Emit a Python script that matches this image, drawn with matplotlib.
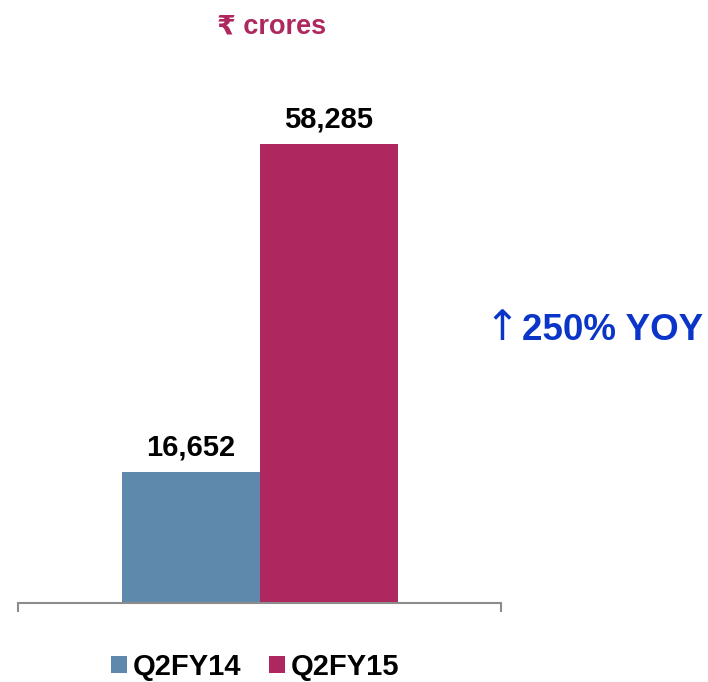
import matplotlib
matplotlib.use("Agg")
import matplotlib.pyplot as plt
from matplotlib.patches import Patch

periods = ["Q2FY14", "Q2FY15"]
values = [16652, 58285]
bar_colors = ["#5E89AD", "#AE275E"]
title_text = "₹ crores"
growth_text = "250% YOY"

FONT = ["Liberation Sans", "DejaVu Sans"]
plt.rcParams["font.family"] = FONT

W, H = 708, 682
fig = plt.figure(figsize=(W / 100, H / 100), dpi=100)
ax = fig.add_axes([18 / W, (H - 603) / H, 483 / W, 551.3 / H])

offsets = [-0.5, 0.5]
bars = ax.bar(offsets, values, width=1.0, color=bar_colors, zorder=2)
ax.set_xlim(-1.75, 1.75)
ax.set_ylim(0, 70000)

for b, v in zip(bars, values):
    ax.annotate(f"{v:,}", (b.get_x() + b.get_width() / 2, v),
                xytext=(0, 12), textcoords="offset points",
                ha="center", va="baseline", fontsize=21, fontweight="bold",
                color="black")

for s in ["top", "right", "left"]:
    ax.spines[s].set_visible(False)
ax.spines["bottom"].set_color("#8C8C8C")
ax.spines["bottom"].set_linewidth(1.5)
ax.set_yticks([])
ax.set_xticks([-1.75, 1.75])
ax.set_xticklabels(["", ""])
ax.tick_params(axis="x", direction="out", length=6.5, width=1.5, color="#8C8C8C")

fig.text(271.5 / W, (H - 26) / H, title_text, ha="center", va="center",
         fontsize=19.5, fontweight="bold", color="#AE275E")

fig.text(502 / W, (H - 340) / H, "↑", ha="center", va="baseline",
         fontsize=30, color="#0A35C8", family="DejaVu Sans")
fig.text(522 / W, (H - 340) / H, growth_text, ha="left", va="baseline",
         fontsize=26.5, fontweight="bold", color="#0A35C8")

handles = [Patch(facecolor=c) for c in bar_colors]
fig.legend(handles, periods, loc="center", bbox_to_anchor=(255.5 / W, (H - 667) / H),
           ncol=2, frameon=False, handlelength=0.55, handleheight=0.55,
           handletextpad=0.2, columnspacing=0.95, borderpad=0.2,
           prop={"size": 21, "weight": "bold", "family": FONT})

fig.savefig("out.png", dpi=100)
